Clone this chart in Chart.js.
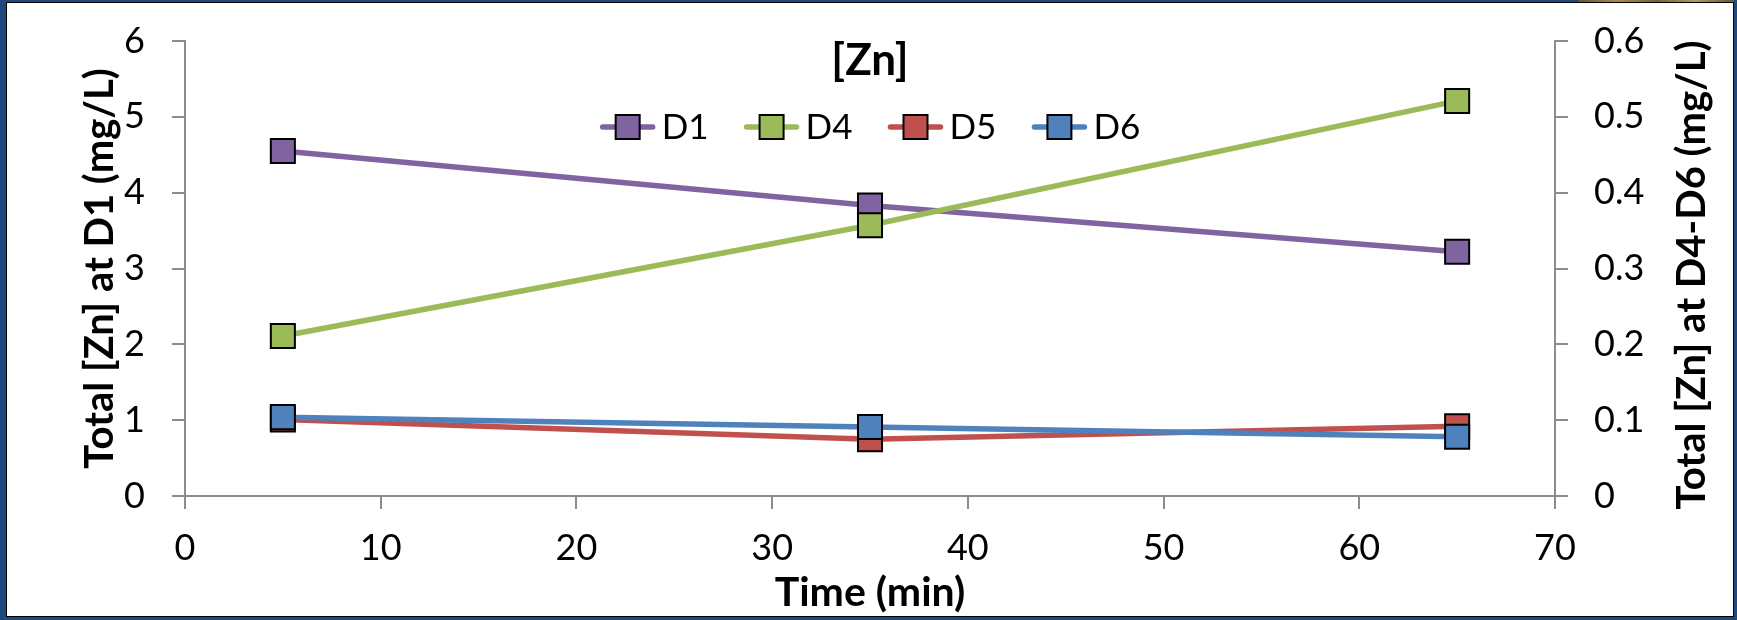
<!DOCTYPE html>
<html>
<head>
<meta charset="utf-8">
<script src="https://cdn.jsdelivr.net/npm/chart.js@4/dist/chart.umd.min.js"></script>
<style>
  html, body { margin: 0; padding: 0; background: #1F497D; }
  body { width: 1737px; height: 620px; position: relative; overflow: hidden; }
  #strip { position: absolute; left: 1578px; top: 0; width: 156px; height: 2px;
           background: linear-gradient(90deg, #6b5430, #a98a52, #7a6038, #b39660, #6e5634); }
  #frame { position: absolute; left: 6px; top: 2px; width: 1728px; height: 615px;
           box-sizing: border-box; border: 1px solid #000; background: #fff; }
  #c { position: absolute; left: 0; top: 0; }
</style>
</head>
<body>
<div id="strip"></div>
<div id="frame"><canvas id="c" width="1726" height="613"></canvas></div>
<script>
// Sampling times (min)
const times = [5, 35, 65];

// Total [Zn] per site
const seriesNames = ['D1', 'D4', 'D5', 'D6'];
const znD1 = [4.55, 3.83, 3.22];     // left axis
const znD4 = [0.211, 0.357, 0.521];  // right axis
const znD5 = [0.101, 0.075, 0.092];  // right axis
const znD6 = [0.104, 0.091, 0.078];  // right axis

// Axis ranges / tick steps
const xTicks = [0, 10, 20, 30, 40, 50, 60, 70];
const leftTicks = [0, 1, 2, 3, 4, 5, 6];
const rightTicks = [0, 0.1, 0.2, 0.3, 0.4, 0.5, 0.6];

const chartTitle = '[Zn]';
const xTitle = 'Time (min)';
const leftTitle = 'Total [Zn] at D1 (mg/L)';
const rightTitle = 'Total [Zn] at D4-D6 (mg/L)';

const colors = ['#8064A2', '#9BBB59', '#C0504D', '#4F81BD'];
const axisGray = '#8c8c8c';
const FONT = 'Lato';
const LINE_W = 5.5;

function pts(vals) { return vals.map((v, i) => ({ x: times[i], y: v })); }

function series(idx, vals, axis) {
  return {
    label: seriesNames[idx],
    data: pts(vals),
    yAxisID: axis,
    borderColor: colors[idx],
    backgroundColor: colors[idx],
    borderWidth: LINE_W,
    pointStyle: 'rect',
    pointRadius: 17,
    pointHoverRadius: 17,
    pointBorderWidth: 2,
    pointBorderColor: '#000',
    pointBackgroundColor: colors[idx],
    order: 3 - idx,
    tension: 0
  };
}

// Title, in-plot legend and right-hand axis title
const overlay = {
  id: 'overlay',
  afterDraw(chart) {
    const ctx = chart.ctx;
    const area = chart.chartArea;
    const cx = (area.left + area.right) / 2;
    ctx.save();
    ctx.fillStyle = '#000';

    // chart title
    ctx.font = 'bold 44px ' + FONT;
    ctx.textAlign = 'center';
    ctx.textBaseline = 'middle';
    ctx.fillText(chartTitle, cx, 58);

    // legend row
    ctx.font = '35px ' + FONT;
    const symW = 56, textGap = 6, itemGap = 35;
    const items = chart.data.datasets.map(ds => ({
      label: ds.label, color: ds.borderColor,
      w: symW + textGap + ctx.measureText(ds.label).width
    }));
    const total = items.reduce((s, it) => s + it.w, 0) + itemGap * (items.length - 1);
    let x = cx - total / 2;
    const ly = 124;
    items.forEach(it => {
      ctx.strokeStyle = it.color;
      ctx.lineWidth = LINE_W;
      ctx.lineCap = 'round';
      ctx.beginPath();
      ctx.moveTo(x + 3, ly);
      ctx.lineTo(x + symW - 3, ly);
      ctx.stroke();
      const s = 24;
      ctx.fillStyle = it.color;
      ctx.fillRect(x + symW / 2 - s / 2, ly - s / 2, s, s);
      ctx.lineWidth = 2;
      ctx.strokeStyle = '#000';
      ctx.strokeRect(x + symW / 2 - s / 2, ly - s / 2, s, s);
      ctx.fillStyle = '#000';
      ctx.textAlign = 'left';
      ctx.textBaseline = 'middle';
      ctx.fillText(it.label, x + symW + textGap, ly + 1);
      x += it.w + itemGap;
    });

    // right axis title, reading bottom-to-top
    ctx.font = 'bold 40px ' + FONT;
    ctx.textAlign = 'center';
    ctx.textBaseline = 'middle';
    ctx.translate(1685, 272);
    ctx.rotate(-Math.PI / 2);
    ctx.fillText(rightTitle, 0, 0);
    ctx.restore();
  }
};

const gridOpts = {
  display: true,
  drawOnChartArea: false,
  drawTicks: true,
  tickLength: 13,
  color: axisGray,
  lineWidth: 2
};
const borderOpts = { display: true, color: axisGray, width: 2 };
const tickFont = { family: FONT, size: 36 };

// fixed side width; keep the end labels from pushing the plot area inward
function fitVertical(s) {
  s.width = 178;
  s.paddingTop = 12;
  s.paddingBottom = 12;
}

new Chart(document.getElementById('c'), {
  type: 'line',
  data: {
    datasets: [
      series(0, znD1, 'y'),
      series(1, znD4, 'y2'),
      series(2, znD5, 'y2'),
      series(3, znD6, 'y2')
    ]
  },
  options: {
    responsive: false,
    animation: false,
    devicePixelRatio: 1,
    layout: { padding: { top: 38, left: 0, right: 0, bottom: 0 } },
    plugins: { legend: { display: false }, title: { display: false }, tooltip: { enabled: false } },
    scales: {
      x: {
        type: 'linear',
        min: xTicks[0], max: xTicks[xTicks.length - 1],
        ticks: { stepSize: xTicks[1] - xTicks[0], font: tickFont, color: '#000', padding: 18, maxRotation: 0 },
        grid: gridOpts,
        border: borderOpts,
        title: { display: true, text: xTitle, color: '#000',
                 font: { family: FONT, size: 41, weight: 'bold', lineHeight: 1 },
                 padding: { top: 0, bottom: 3 } },
        afterFit(s) { s.height = 120; }
      },
      y: {
        position: 'left',
        min: leftTicks[0], max: leftTicks[leftTicks.length - 1],
        ticks: { stepSize: leftTicks[1] - leftTicks[0], font: tickFont, color: '#000', padding: 27 },
        grid: gridOpts,
        border: borderOpts,
        title: { display: true, text: leftTitle, color: '#000',
                 font: { family: FONT, size: 40, weight: 'bold', lineHeight: 1 },
                 padding: { top: 73, bottom: 0 } },
        afterFit: fitVertical
      },
      y2: {
        position: 'right',
        min: rightTicks[0], max: rightTicks[rightTicks.length - 1],
        ticks: { stepSize: 0.1, font: tickFont, color: '#000', padding: 26 },
        grid: gridOpts,
        border: borderOpts,
        afterFit: fitVertical
      }
    }
  },
  plugins: [overlay]
});
</script>
</body>
</html>
